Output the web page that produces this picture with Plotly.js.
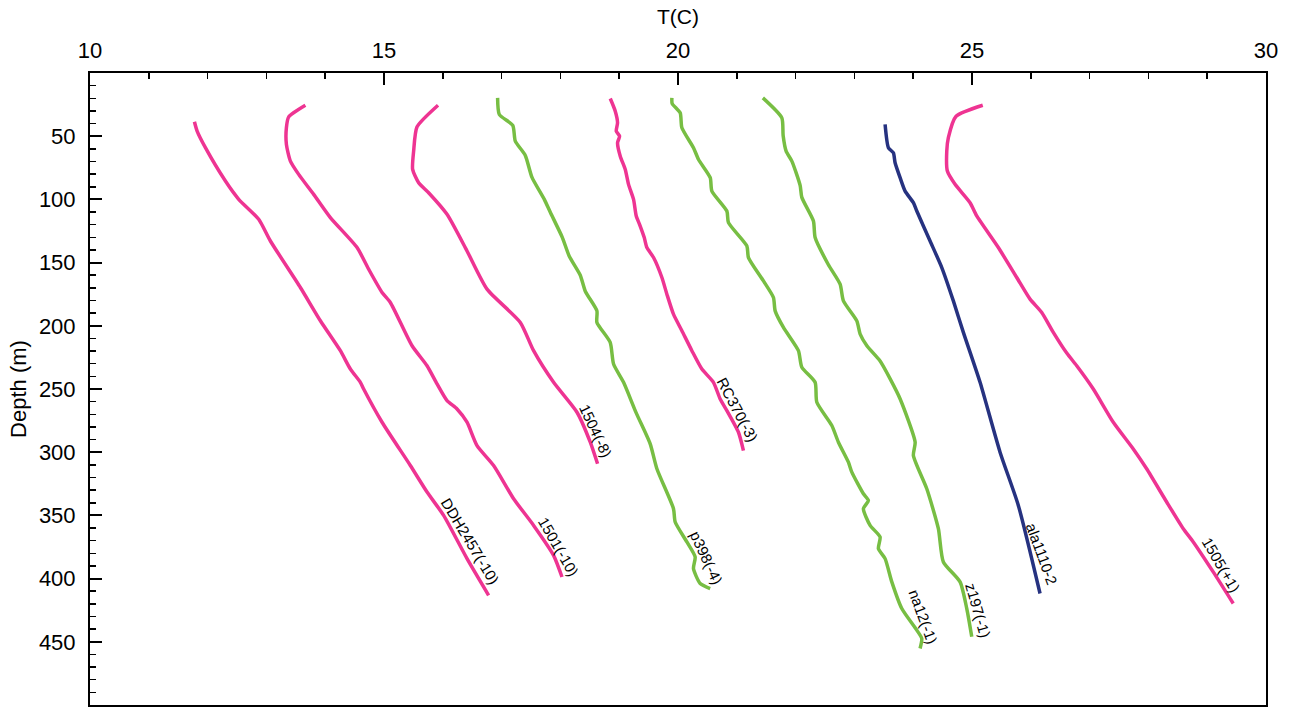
<!DOCTYPE html>
<html>
<head>
<meta charset="utf-8">
<script src="https://cdn.plot.ly/plotly-3.0.1.min.js"></script>
<style>html,body{margin:0;padding:0;background:#fff;}#chart{width:1292px;height:707px;}</style>
</head>
<body>
<div id="chart"></div>
<script>
// ---- data (temperature in C, depth in m) ----
const ddhT = [11.776, 11.822, 11.963, 12.303, 12.529, 12.869, 13.068, 13.578, 13.918, 14.258, 14.428, 14.598, 14.654, 14.967, 15.448, 15.732, 16.014, 16.412, 16.779];
const ddhD = [38.6, 46.0, 59.1, 85.5, 99.9, 115.7, 132.9, 169.7, 196.0, 219.7, 234.2, 244.7, 250.0, 276.3, 310.5, 331.5, 350.0, 384.2, 413.2];

const b1501T = [13.663, 13.379, 13.340, 13.340, 13.408, 13.549, 13.804, 14.088, 14.542, 14.739, 14.967, 15.108, 15.477, 15.732, 15.902, 16.072, 16.242, 16.412, 16.582, 16.864, 17.204, 17.544, 17.884, 18.027];
const b1501D = [25.5, 34.7, 43.3, 56.5, 69.7, 80.2, 96.0, 114.4, 138.1, 155.2, 173.6, 181.5, 215.8, 231.6, 246.0, 259.2, 265.8, 276.3, 294.8, 310.5, 336.8, 357.9, 381.6, 398.7];

const b1504T = [15.919, 15.562, 15.504, 15.487, 15.589, 15.759, 16.072, 16.412, 16.752, 17.318, 17.544, 17.884, 18.282, 18.508, 18.632];
const b1504D = [25.5, 42.6, 61.8, 76.3, 86.8, 94.7, 111.8, 140.8, 171.0, 197.3, 219.7, 244.7, 268.4, 292.1, 309.2];

const p398T = [16.932, 16.961, 17.190, 17.233, 17.403, 17.517, 17.726, 17.828, 18.032, 18.151, 18.338, 18.423, 18.621, 18.621, 18.847, 18.904, 19.074, 19.289, 19.527, 19.641, 19.923, 19.952, 20.151, 20.292, 20.263, 20.377, 20.547];
const p398D = [19.7, 32.8, 41.4, 53.9, 65.2, 82.6, 100.0, 110.2, 130.0, 145.0, 160.0, 172.6, 188.2, 197.3, 213.1, 230.2, 244.7, 268.9, 293.4, 313.1, 344.7, 355.2, 371.0, 382.9, 392.1, 403.9, 407.9];

const rc370T = [18.848, 18.933, 18.972, 18.950, 19.006, 18.972, 19.018, 19.103, 19.159, 19.244, 19.290, 19.346, 19.426, 19.471, 19.584, 19.726, 19.811, 19.923, 20.066, 20.236, 20.406, 20.603, 20.717, 20.831, 21.028, 21.113];
const rc370D = [20.2, 30.2, 39.4, 46.0, 50.0, 55.2, 65.8, 76.3, 88.1, 100.0, 113.1, 119.7, 130.2, 138.1, 146.0, 161.8, 175.0, 190.8, 203.9, 219.7, 234.2, 244.7, 257.9, 267.1, 284.2, 298.7];

const na12T = [19.896, 19.901, 20.037, 20.066, 20.263, 20.349, 20.548, 20.576, 20.831, 20.858, 21.171, 21.198, 21.453, 21.623, 21.652, 21.793, 22.048, 22.106, 22.332, 22.361, 22.616, 22.728, 22.898, 22.956, 23.153, 23.238, 23.153, 23.267, 23.437, 23.408, 23.522, 23.636, 23.806, 24.061, 24.146, 24.117];
const na12D = [19.7, 24.2, 31.5, 43.3, 59.1, 68.4, 82.8, 93.4, 109.2, 118.4, 136.8, 146.0, 164.5, 177.6, 188.2, 201.3, 219.7, 232.8, 244.7, 260.5, 278.9, 292.1, 307.9, 315.8, 332.9, 338.2, 344.7, 357.9, 367.1, 376.3, 384.2, 402.6, 423.7, 440.8, 447.4, 455.3];

const z197T = [21.443, 21.766, 21.788, 21.839, 21.936, 22.077, 22.106, 22.303, 22.332, 22.553, 22.757, 22.813, 23.041, 23.098, 23.212, 23.437, 23.608, 23.778, 24.033, 24.003, 24.231, 24.428, 24.513, 24.797, 24.911, 24.996];
const z197D = [19.7, 35.5, 49.4, 61.8, 69.7, 88.9, 98.4, 117.1, 130.2, 151.3, 167.1, 180.3, 196.1, 206.6, 215.8, 227.9, 242.0, 257.9, 292.1, 302.6, 328.9, 360.5, 386.8, 402.6, 423.7, 446.0];

const alaT = [23.522, 23.578, 23.663, 23.692, 23.777, 23.862, 24.003, 24.061, 24.287, 24.486, 24.683, 24.853, 25.137, 25.477, 25.788, 26.157];
const alaD = [40.7, 59.1, 63.1, 71.0, 82.8, 93.4, 102.6, 109.2, 132.9, 153.9, 180.3, 205.2, 244.7, 300.0, 342.1, 411.8];

const b1505T = [25.183, 24.729, 24.598, 24.571, 24.581, 24.712, 24.967, 25.081, 25.448, 25.761, 25.987, 26.186, 26.383, 26.611, 26.781, 27.063, 27.403, 27.743, 27.970, 28.311, 28.593, 28.763, 29.102, 29.443];
const b1505D = [25.5, 34.2, 51.2, 61.8, 77.6, 88.1, 102.6, 113.1, 138.1, 161.8, 178.9, 189.4, 205.2, 221.6, 231.6, 250.0, 276.3, 297.4, 313.1, 339.4, 360.5, 371.0, 394.7, 419.7];

// labels (text, anchor temperature, anchor depth, angle)
const labelText  = ["DDH2457(-10)", "1501(-10)", "1504(-8)", "RC370(-3)", "p398(-4)", "na12(-1)", "z197(-1)", "ala1110-2", "1505(+1)"];
const labelT     = [16.468, 17.964, 18.593, 21.006, 20.479, 24.168, 25.103, 26.190, 29.233];
const labelD     = [370.8, 374.7, 283.1, 266.6, 383.4, 430.0, 425.3, 381.0, 388.9];
const labelAngle = [59, 60, 65, 62, 65, 70, 74, 70, 60];

const xTickVals = [10, 15, 20, 25, 30];
const yTickVals = [50, 100, 150, 200, 250, 300, 350, 400, 450];

// ---- styles ----
const PINK = '#EE3492', GREEN = '#77BE43', NAVY = '#263280';
const series = [
  [ddhT, ddhD, PINK], [b1501T, b1501D, PINK], [b1504T, b1504D, PINK],
  [p398T, p398D, GREEN], [rc370T, rc370D, PINK], [na12T, na12D, GREEN],
  [z197T, z197D, GREEN], [alaT, alaD, NAVY], [b1505T, b1505D, PINK]
];
const traces = series.map(s => ({
  type: 'scatter', mode: 'lines', x: s[0], y: s[1],
  line: {color: s[2], width: 3.5, shape: 'spline', smoothing: 0.6},
  hoverinfo: 'skip', showlegend: false
}));

const FONT = 'Liberation Sans, Arial, Helvetica, sans-serif';
const annotations = labelText.map((t, i) => ({
  text: t, x: labelT[i], y: labelD[i], xref: 'x', yref: 'y',
  showarrow: false, textangle: labelAngle[i],
  font: {family: FONT, size: 15, color: '#000'}
}));

const layout = {
  width: 1292, height: 707,
  margin: {l: 90, r: 26, t: 73, b: 2},
  paper_bgcolor: '#fff', plot_bgcolor: '#fff',
  font: {family: FONT, color: '#000'},
  showlegend: false,
  xaxis: {
    side: 'top', range: [10, 30], tickmode: 'array', tickvals: xTickVals,
    ticks: 'inside', ticklen: 12, tickwidth: 2, tickcolor: '#000',
    minor: {dtick: 1, tick0: 0, ticks: 'inside', ticklen: 6, tickwidth: 1.5, tickcolor: '#000'},
    showline: true, linewidth: 2, linecolor: '#000', mirror: true,
    showgrid: false, zeroline: false,
    tickfont: {size: 22, family: FONT, color: '#000'},
    ticklabelstandoff: 4,
    title: {text: 'T(C)', font: {size: 21, family: FONT, color: '#000'}, standoff: 8}
  },
  yaxis: {
    range: [500, 0], tickmode: 'array', tickvals: yTickVals,
    ticks: 'inside', ticklen: 12, tickwidth: 2, tickcolor: '#000',
    minor: {dtick: 10, tick0: 0, ticks: 'inside', ticklen: 6, tickwidth: 1.5, tickcolor: '#000'},
    showline: true, linewidth: 2, linecolor: '#000', mirror: true,
    showgrid: false, zeroline: false,
    tickfont: {size: 22, family: FONT, color: '#000'},
    ticklabelstandoff: 8,
    title: {text: 'Depth (m)', font: {size: 22, family: FONT, color: '#000'}, standoff: 6}
  },
  annotations: annotations
};

Plotly.newPlot('chart', traces, layout, {staticPlot: true, displayModeBar: false});
</script>
</body>
</html>
